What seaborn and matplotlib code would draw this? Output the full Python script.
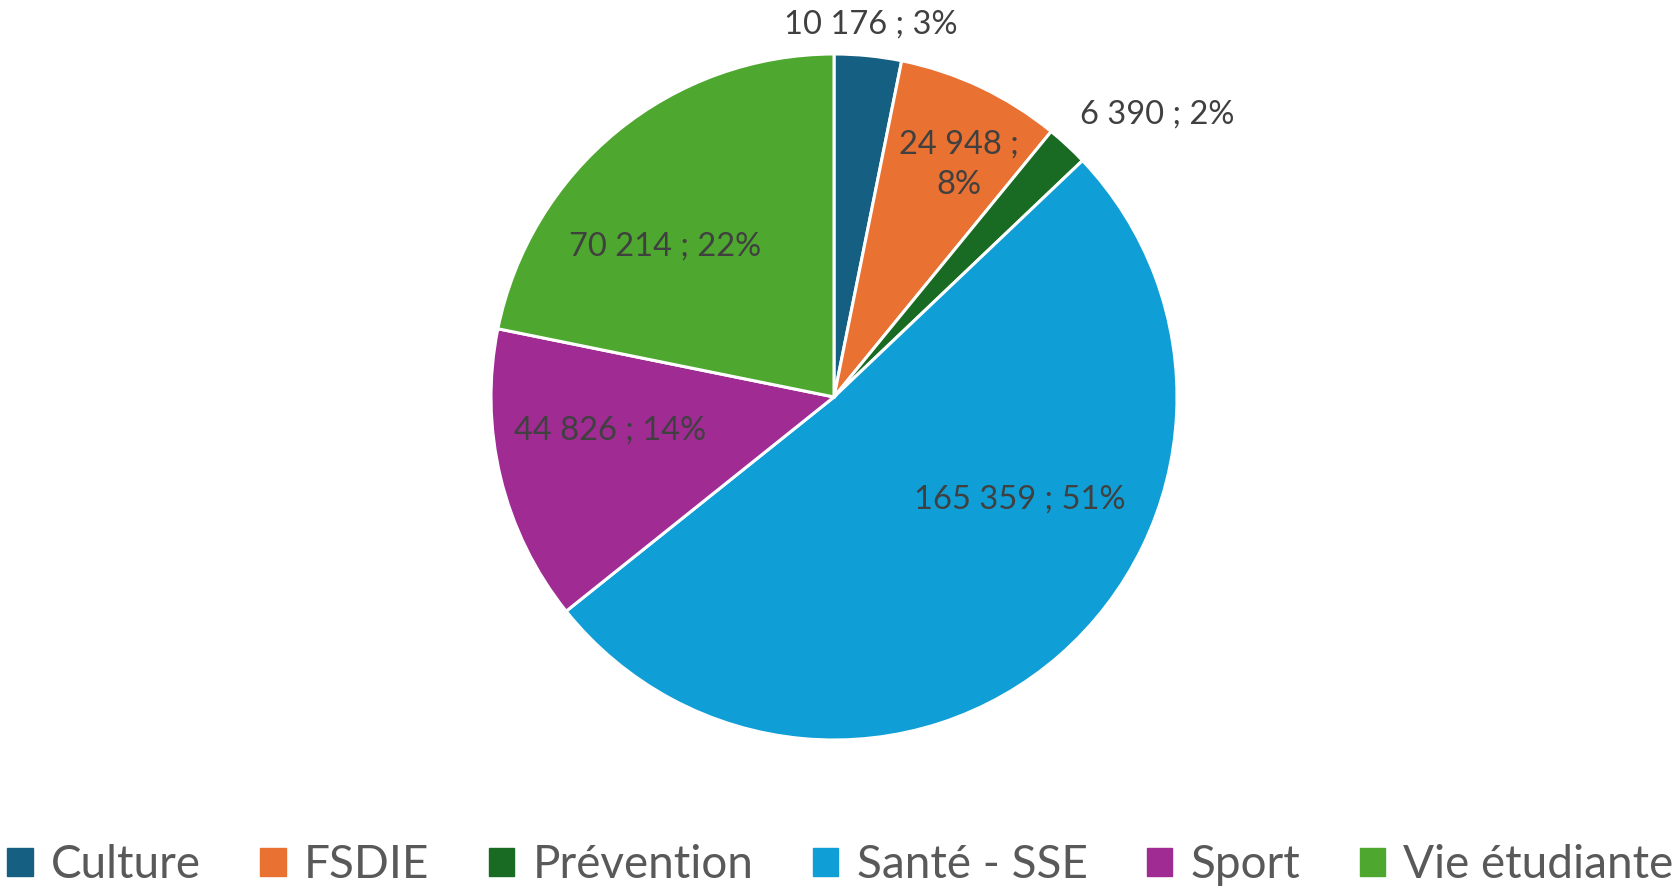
import numpy as np
import matplotlib.pyplot as plt
import seaborn as sns

sns.set_theme(style="white")
plt.rcParams['font.family'] = ['Lato', 'DejaVu Sans']

categories = ['Culture', 'FSDIE', 'Prévention', 'Santé - SSE', 'Sport', 'Vie étudiante']
values = [10176, 24948, 6390, 165359, 44826, 70214]
percents = ['3%', '8%', '2%', '51%', '14%', '22%']
colors = ['#156082', '#E97132', '#196B24', '#0F9ED5', '#A02B93', '#4EA72E']

# label placement: radius factor and angle shift (degrees) per slice
label_r = [1.09, 0.77, 1.25, 0.62, 0.66, 0.66]
label_shift = [0, -3, -6, 20, -5, 9]

def fmt(v):
    return f"{v:,}".replace(',', ' ')

fig = plt.figure(figsize=(16.81, 8.90), dpi=100)
ax = fig.add_axes([491 / 1681, 150 / 890, 686 / 1681, 686 / 890])

wedges, _ = ax.pie(values, colors=colors, startangle=90, counterclock=False,
                   radius=1, wedgeprops=dict(edgecolor='white', linewidth=2.2))
ax.set_xlim(-1, 1)
ax.set_ylim(-1, 1)
ax.set_axis_off()

for i, w in enumerate(wedges):
    mid = (w.theta1 + w.theta2) / 2 + label_shift[i]
    x = label_r[i] * np.cos(np.radians(mid))
    y = label_r[i] * np.sin(np.radians(mid))
    txt = f"{fmt(values[i])} ; {percents[i]}"
    if categories[i] == 'FSDIE':
        txt = f"{fmt(values[i])} ;\n{percents[i]}"
    ax.text(x, y, txt, ha='center', va='center', fontsize=23.5, color='#404040',
            clip_on=False, linespacing=1.45)

handles = [plt.Rectangle((0, 0), 1, 1, color=c) for c in colors]
fig.legend(handles, categories, loc='lower center', bbox_to_anchor=(0.5, -0.042),
           ncol=6, frameon=False, fontsize=33, labelcolor='#595959',
           handlelength=0.55, handleheight=0.55, handletextpad=0.4, columnspacing=1.3)

fig.savefig('out.png', dpi=100)
